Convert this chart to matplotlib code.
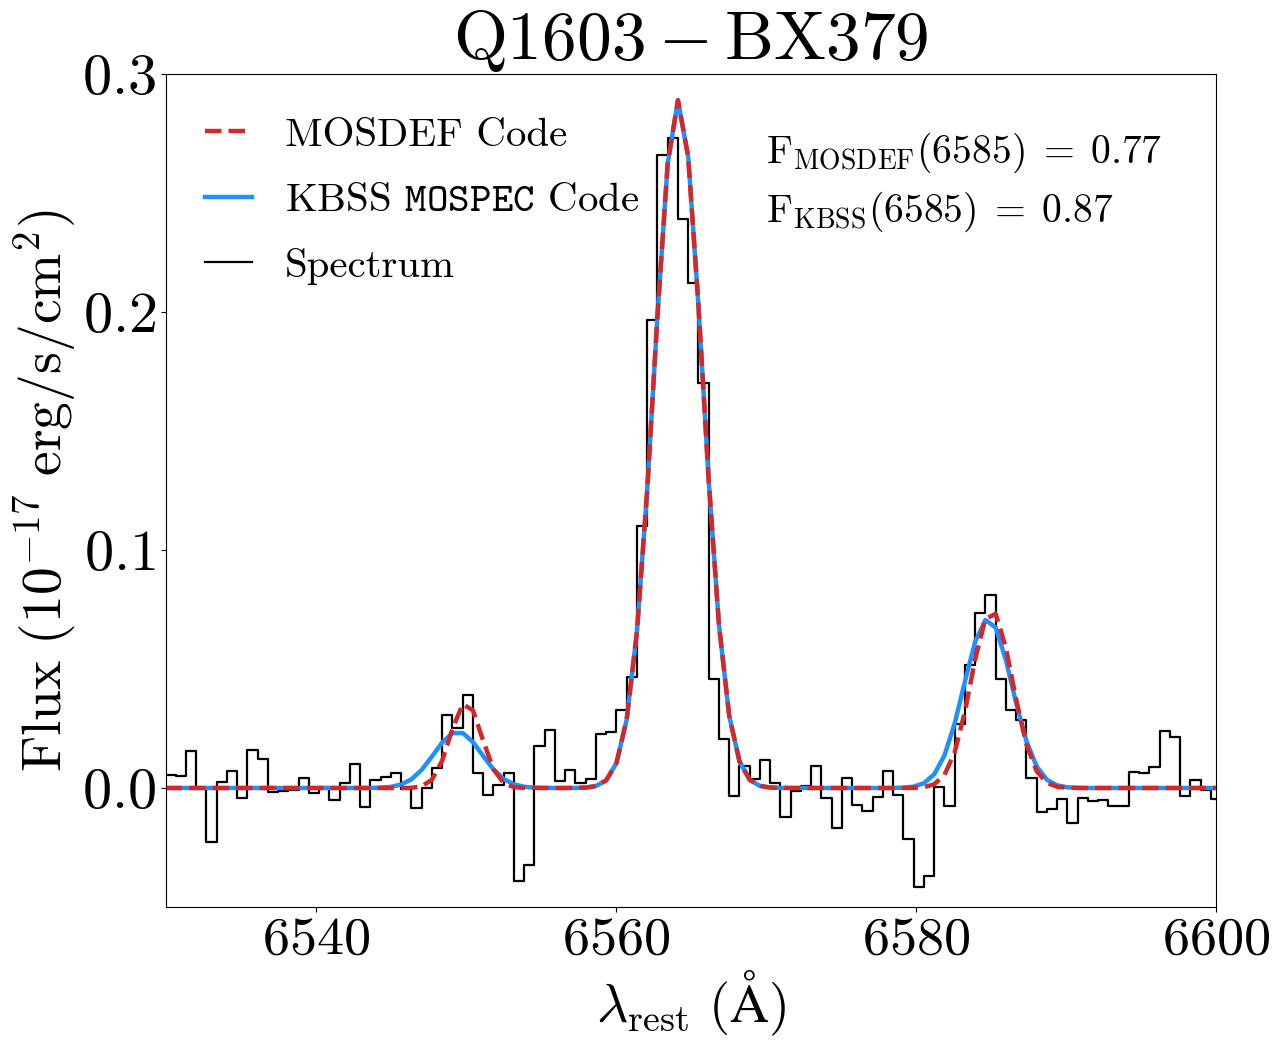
import numpy as np
import matplotlib
matplotlib.use("Agg")
import matplotlib.pyplot as plt

plt.rcParams['font.family'] = 'serif'
plt.rcParams['font.serif'] = ['cmr10']
plt.rcParams['mathtext.fontset'] = 'cm'
plt.rcParams['axes.formatter.use_mathtext'] = True

# spectrum: regular wavelength grid (pixel edges), flux per pixel
wave_start = 6529.964
wave_step = 0.6833
flux = [
    0.0055, 0.0055, 0.0050, 0.0155, 0.0000, -0.0228, 0.0025, 0.0073, -0.0042, 0.0160,
    0.0122, -0.0017, -0.0014, -0.0008, 0.0042, -0.0021, 0.0004, -0.0049, 0.0021, 0.0101,
    -0.0081, 0.0035, 0.0046, 0.0063, -0.0003, -0.0084, 0.0000, 0.0084, 0.0305, 0.0254,
    0.0391, 0.0063, -0.0030, 0.0011, 0.0064, -0.0391, -0.0324, 0.0178, 0.0244, 0.0029,
    0.0076, 0.0021, 0.0038, 0.0227, 0.0235, 0.0329, 0.0468, 0.1100, 0.1965, 0.2660,
    0.2730, 0.2390, 0.2120, 0.1700, 0.0459, 0.0206, -0.0034, 0.0094, 0.0038, 0.0118,
    0.0020, -0.0120, -0.0011, 0.0008, 0.0094, -0.0042, -0.0167, 0.0042, -0.0071, -0.0095,
    -0.0036, 0.0073, -0.0028, -0.0216, -0.0415, -0.0368, 0.0006, -0.0074, 0.0269, 0.0518,
    0.0734, 0.0812, 0.0457, 0.0328, 0.0286, 0.0043, -0.0099, -0.0087, -0.0045, -0.0148,
    -0.0042, -0.0056, -0.0052, -0.0074, -0.0074, 0.0066, 0.0062, 0.0090, 0.0241, 0.0216,
    -0.0034, 0.0035, -0.0008, -0.0048,
]

# fitted lines: [NII]6550, Halpha, [NII]6585
mosdef_centers = [6550.00, 6564.15, 6585.05]
mosdef_amps = [0.0360, 0.2890, 0.0745]
mosdef_sigmas = [1.05, 1.60, 1.38]

kbss_centers = [6549.45, 6564.15, 6584.80]
kbss_amps = [0.0236, 0.2890, 0.0710]
kbss_sigmas = [1.60, 1.60, 1.60]

f_mosdef = 0.77
f_kbss = 0.87

wave = wave_start + wave_step * np.arange(len(flux))


def model(x, centers, amps, sigmas):
    y = np.zeros_like(x)
    for c, a, s in zip(centers, amps, sigmas):
        y += a * np.exp(-0.5 * ((x - c) / s) ** 2)
    return y


fig = plt.figure(figsize=(12.8, 10.43), dpi=100)
ax = fig.add_axes([0.1297, 0.1304, 0.8203, 0.7986])

spec, = ax.step(wave, flux, where='pre', color='k', lw=1.6, label='Spectrum')
kb, = ax.plot(wave, model(wave, kbss_centers, kbss_amps, kbss_sigmas),
              color='dodgerblue', lw=3.2, label=r'KBSS $\mathtt{MOSPEC}$ Code')
md, = ax.plot(wave, model(wave, mosdef_centers, mosdef_amps, mosdef_sigmas),
              color='#d62728', lw=3.2, ls='--', label='MOSDEF Code')

ax.set_xlim(6530, 6600)
ax.set_ylim(-0.05, 0.3)
ax.set_xticks([6540, 6560, 6580, 6600])
ax.set_yticks([0.0, 0.1, 0.2, 0.3])
ax.tick_params(axis='x', labelsize=39)
ax.tick_params(axis='y', labelsize=42)

ax.set_xlabel(r'$\lambda_{\rm rest}\ (\mathrm{\AA})$', fontsize=39)
ax.set_ylabel(r'$\mathrm{Flux\ (10^{-17}\ erg/s/cm^2)}$', fontsize=40, labelpad=2)
ax.set_title(r'$\mathrm{Q1603-BX379}$', fontsize=50)

ax.legend(handles=[md, kb, spec], loc='upper left', frameon=False,
          fontsize=29.5, handlelength=1.15, labelspacing=0.7,
          borderaxespad=0.65, bbox_to_anchor=(-0.004, 1.0))

ax.text(6570, 0.2626, r'$\mathrm{F_{MOSDEF}(6585)\;=\;%.2f}$' % f_mosdef,
        fontsize=28.5, va='baseline')
ax.text(6570, 0.2378, r'$\mathrm{F_{KBSS}(6585)\;=\;%.2f}$' % f_kbss,
        fontsize=28.5, va='baseline')

fig.savefig('out.png', dpi=100)
